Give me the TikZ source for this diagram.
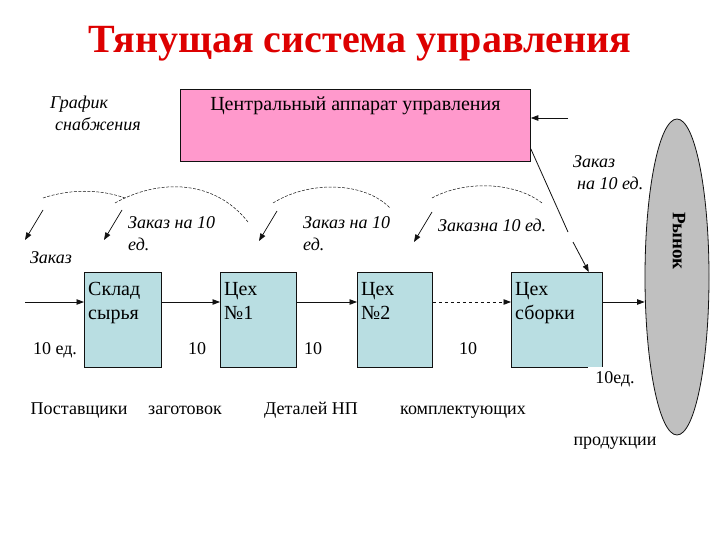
\documentclass[tikz,border=0pt]{standalone}
\usepackage{fontspec}
\setmainfont{Liberation Serif}
\usepackage{xcolor}
\usepackage{tikz}
\usetikzlibrary{arrows.meta,positioning,calc,shapes.geometric}
\definecolor{titlered}{HTML}{DD0000}
\definecolor{ctrlpink}{HTML}{FF99CC}
\definecolor{shopblue}{HTML}{B9DEE2}
\definecolor{marketgray}{HTML}{C0C0C0}
\definecolor{ink}{HTML}{111111}
\tikzset{
    every picture/.style={line join=miter},
    shopbox/.style={draw=ink,fill=shopblue,line width=0.8pt,anchor=north west,
      minimum height=95pt,inner sep=0pt},
    shoptext/.style={anchor=north west,xshift=4pt,yshift=-10pt,inner sep=0pt,
      align=left,font=\fontsize{20}{24}\selectfont},
    ordertext/.style={font=\fontsize{18}{22}\selectfont\itshape,inner sep=0pt,align=left},
    qtytext/.style={font=\fontsize{18}{20}\selectfont,inner sep=0pt,anchor=base},
    flowarrow/.style={-{Triangle[length=7.5pt,width=5.5pt]},draw=ink,line width=0.8pt},
    infoarc/.style={draw=ink,line width=0.5pt,dash pattern=on 3pt off 1.5pt}
}
\begin{document}
\begin{tikzpicture}[x=1pt,y=-1pt,font=\fontsize{18}{20}\selectfont]
  \useasboundingbox (0,0) rectangle (720,540);
  % title
  \node[text=titlered,font=\fontsize{40}{48}\selectfont\bfseries] (title) at (360,44)
    {Тянущая система управления};
  % control unit and market
  \node[draw=ink,fill=ctrlpink,line width=0.8pt,anchor=north west,
    minimum width=350pt,minimum height=72pt,
    label={[anchor=north,yshift=-8pt,inner sep=0pt,font=\fontsize{20}{22}\selectfont]north:Центральный аппарат управления}]
    (central) at (180,89) {};
  \node[ellipse,draw=ink,fill=marketgray,line width=0.8pt,
    minimum width=64pt,minimum height=316pt,inner sep=0pt] (market) at (677,277) {};
  \node[rotate=-90,font=\fontsize{19}{20}\selectfont\bfseries] (marketname) at (679,241) {Рынок};
  % shops
  \node[shopbox,minimum width=77pt,label={[shoptext]north west:Склад\\сырья}] (stock) at (84,272) {};
  \node[shopbox,minimum width=76pt,label={[shoptext]north west:Цех\\№1}] (shop1) at (220,272) {};
  \node[shopbox,minimum width=75pt,label={[shoptext]north west:Цех\\№2}] (shop2) at (357,272) {};
  \node[shopbox,minimum width=91pt,label={[shoptext]north west:Цех\\сборки}] (assembly) at (511,272) {};
  % material flow
  \coordinate (supply) at (25,302);
  \draw[flowarrow] (supply) -- (stock.west |- supply);
  \draw[flowarrow] (stock.east |- supply) -- (shop1.west |- supply);
  \draw[flowarrow] (shop1.east |- supply) -- (shop2.west |- supply);
  \draw[flowarrow,dashed] (shop2.east |- supply) -- (assembly.west |- supply);
  \draw[flowarrow] (assembly.east |- supply) -- (market.west |- supply);
  % orders
  \coordinate (demand) at (568,118);
  \draw[flowarrow] (demand) -- (central.east |- demand);
  \coordinate (cut1) at (568,232);
  \coordinate (cut2) at (573,242);
  \draw[draw=ink,line width=0.8pt] ($(central.south east)+(0,-13)$) -- (cut1);
  \draw[flowarrow] (cut2) -- ($(assembly.north east)+(-14,0)$);
  \draw[infoarc] (43,198) .. controls (70,189) and (100,189) .. (125,198);
  \draw[infoarc] (115,203) .. controls (160,178) and (215,180) .. (248,222);
  \draw[infoarc] (273,203) .. controls (310,180) and (365,182) .. (390,208);
  \draw[infoarc] (432,198) .. controls (465,180) and (515,182) .. (542,203);
  \foreach \x/\y in {43/210,122/210,277/211,432/212} {
    \draw[flowarrow,line width=0.7pt] (\x,\y) -- ++(-18,30);
  }
  % labels
  \node[ordertext,anchor=north west] (plan) at (50,96) {График\\\hspace*{5pt}снабжения};
  \node[ordertext,anchor=base] (order0) at (51,263) {Заказ};
  \node[ordertext,anchor=north west] (order1) at (128,216) {Заказ на 10\\ед.};
  \node[ordertext,anchor=north west] (order2) at (303,216) {Заказ на 10\\ед.};
  \node[ordertext,anchor=base west] (order3) at (438,232) {Заказна 10 ед.};
  \node[ordertext,anchor=north west] (order4) at (573,155) {Заказ\\\hspace*{4pt}на 10 ед.};
  \node[qtytext] (q0) at (55,354) {10 ед.};
  \node[qtytext] (q1) at (197,354) {10};
  \node[qtytext] (q2) at (313,354) {10};
  \node[qtytext] (q3) at (468,354) {10};
  \node[qtytext,fill=white,inner xsep=7pt,inner ysep=4pt] (q4) at (615,383) {10ед.};
  \node[qtytext] (stockname) at (79,414) {Поставщики};
  \node[qtytext] (blanks) at (185,414) {заготовок};
  \node[qtytext] (parts) at (311,414) {Деталей НП};
  \node[qtytext] (kits) at (463,414) {комплектующих};
  \node[qtytext] (goods) at (615,445) {продукции};
\end{tikzpicture}
\end{document}
